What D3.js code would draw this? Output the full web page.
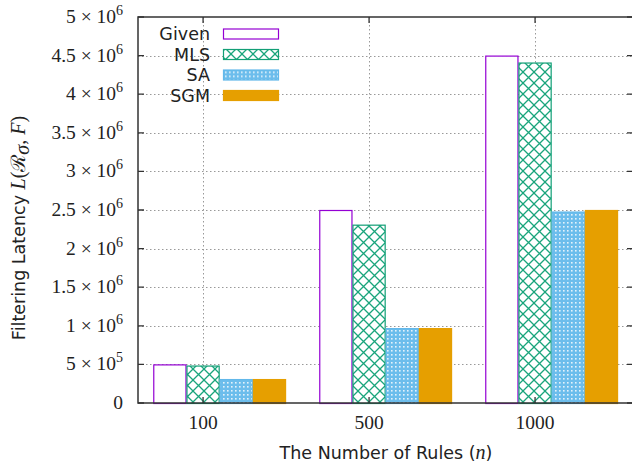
<!DOCTYPE html>
<html>
<head>
<meta charset="utf-8">
<script src="https://cdn.jsdelivr.net/npm/d3@7"></script>
<style>
  body { margin: 0; background: #fff; }
  svg { display: block; }
  .tick-label { font-family: "Liberation Serif", serif; font-size: 19.5px; fill: #222; }
  .sans { font-family: "DejaVu Sans", sans-serif; font-size: 17.5px; fill: #222; }
  .math { font-family: "Liberation Serif", serif; font-size: 20px; }
</style>
</head>
<body>
<div id="wrapper"></div>
<script>
const categories = ["100", "500", "1000"];
const seriesNames = ["Given", "MLS", "SA", "SGM"];
const givenValues = [5.0e5, 2.5e6, 4.5e6];
const mlsValues = [4.85e5, 2.31e6, 4.41e6];
const saValues = [3.1e5, 0.97e6, 2.48e6];
const sgmValues = [3.1e5, 0.97e6, 2.5e6];
const yTicks = [0, 5e5, 1e6, 1.5e6, 2e6, 2.5e6, 3e6, 3.5e6, 4e6, 4.5e6, 5e6];
const yTickText = [["0", ""], ["5 × 10", "5"], ["1 × 10", "6"], ["1.5 × 10", "6"], ["2 × 10", "6"],
  ["2.5 × 10", "6"], ["3 × 10", "6"], ["3.5 × 10", "6"], ["4 × 10", "6"], ["4.5 × 10", "6"], ["5 × 10", "6"]];

function build() {
  const dimension = {
    width: 632,
    height: 465,
    margin: { top: 17, right: -1, bottom: 62, left: 138 },
  };
  dimension.boundedWidth = dimension.width - dimension.margin.left - dimension.margin.right;
  dimension.boundedHeight = dimension.height - dimension.margin.top - dimension.margin.bottom;

  const allSeries = [givenValues, mlsValues, saValues, sgmValues];
  const data = categories.flatMap((c, i) =>
    seriesNames.map((s, k) => ({ cat: i, k, name: s, value: allSeries[k][i] })));

  const x = d3.scaleLinear().domain([-0.392, 2.59]).range([0, dimension.boundedWidth]);
  const y = d3.scaleLinear().domain([0, 5e6]).range([dimension.boundedHeight, 0]);

  const wrapper = d3.select("#wrapper").append("svg")
    .attr("width", dimension.width)
    .attr("height", dimension.height);

  const defs = wrapper.append("defs");
  const hatch = defs.append("pattern")
    .attr("id", "hatch-mls").attr("patternUnits", "userSpaceOnUse")
    .attr("width", 11).attr("height", 11);
  hatch.append("rect").attr("width", 11).attr("height", 11).attr("fill", "#fff");
  hatch.append("path").attr("d", "M0,0L11,11M11,0L0,11M-1,10L1,12M10,-1L12,1")
    .attr("stroke", "#1aa57c").attr("stroke-width", 1.3).attr("fill", "none");

  const dots = defs.append("pattern")
    .attr("id", "hatch-sa").attr("patternUnits", "userSpaceOnUse")
    .attr("width", 4).attr("height", 4);
  dots.append("rect").attr("width", 4).attr("height", 4).attr("fill", "#6cbdec");
  dots.append("rect").attr("x", 1).attr("y", 1).attr("width", 1.6).attr("height", 1.6).attr("fill", "#e4f2fb");

  const colors = {
    Given: { fill: "#fff", stroke: "#9400d3" },
    MLS: { fill: "url(#hatch-mls)", stroke: "#129f76" },
    SA: { fill: "url(#hatch-sa)", stroke: "#62b8ea" },
    SGM: { fill: "#e69f00", stroke: "#e69f00" },
  };

  const bounds = wrapper.append("g")
    .attr("transform", `translate(${dimension.margin.left},${dimension.margin.top})`);

  // grid
  bounds.append("g").selectAll("line.gy")
    .data(yTicks.slice(1, -1)).enter().append("line")
    .attr("x1", 0).attr("x2", dimension.boundedWidth)
    .attr("y1", (d) => Math.round(y(d)) + 0.5).attr("y2", (d) => Math.round(y(d)) + 0.5)
    .attr("stroke", "#999").attr("stroke-width", 1).attr("stroke-dasharray", "1.5,2.5");
  bounds.append("g").selectAll("line.gx")
    .data(categories).enter().append("line")
    .attr("x1", (d, i) => Math.round(x(i)) + 0.5).attr("x2", (d, i) => Math.round(x(i)) + 0.5)
    .attr("y1", 0).attr("y2", dimension.boundedHeight)
    .attr("stroke", "#999").attr("stroke-width", 1).attr("stroke-dasharray", "1.5,2.5");

  // bars
  bounds.append("g").selectAll("rect")
    .data(data).enter().append("rect")
    .attr("x", (d) => x(d.cat - 0.3 + d.k * 0.2) + 0.5)
    .attr("width", (d) => x(0.2) - x(0) - 1)
    .attr("y", (d) => y(d.value) + 0.5)
    .attr("height", (d) => y(0) - y(d.value))
    .attr("fill", (d) => colors[d.name].fill)
    .attr("stroke", (d) => colors[d.name].stroke)
    .attr("stroke-width", 1.2);

  // frame
  bounds.append("rect")
    .attr("x", 0).attr("y", 0)
    .attr("width", dimension.boundedWidth).attr("height", dimension.boundedHeight)
    .attr("fill", "none").attr("stroke", "#333").attr("stroke-width", 1.5);

  // tick marks
  bounds.append("g").selectAll("path")
    .data(yTicks).enter().append("path")
    .attr("d", (d) => `M0,${y(d)}h6M${dimension.boundedWidth},${y(d)}h-6`)
    .attr("stroke", "#333").attr("stroke-width", 1.3);
  bounds.append("g").selectAll("path")
    .data(categories).enter().append("path")
    .attr("d", (d, i) => `M${x(i)},0v6M${x(i)},${dimension.boundedHeight}v-6`)
    .attr("stroke", "#333").attr("stroke-width", 1.3);

  // y tick labels
  const yl = bounds.append("g").selectAll("text")
    .data(yTicks).enter().append("text")
    .attr("class", "tick-label")
    .attr("x", -15)
    .attr("y", (d) => y(d) + 6)
    .attr("text-anchor", "end");
  yl.each(function (d, i) {
    const t = d3.select(this);
    t.append("tspan").text(yTickText[i][0]);
    if (yTickText[i][1]) {
      t.append("tspan").attr("dy", -8).attr("font-size", 14).text(yTickText[i][1]);
    }
  });

  // x tick labels
  bounds.append("g").selectAll("text")
    .data(categories).enter().append("text")
    .attr("class", "tick-label")
    .attr("x", (d, i) => x(i))
    .attr("y", dimension.boundedHeight + 26)
    .attr("text-anchor", "middle")
    .text((d) => d);

  // axis titles
  const xt = wrapper.append("text")
    .attr("class", "sans")
    .attr("x", 386).attr("y", 459)
    .attr("text-anchor", "middle");
  xt.append("tspan").text("The Number of Rules (");
  xt.append("tspan").attr("class", "math").attr("font-style", "italic").text("n");
  xt.append("tspan").text(")");

  const ytl = wrapper.append("text")
    .attr("class", "sans")
    .attr("transform", "translate(25,228) rotate(-90)")
    .attr("text-anchor", "middle");
  ytl.append("tspan").text("Filtering Latency ");
  ytl.append("tspan").attr("class", "math").attr("font-style", "italic").text("L");
  ytl.append("tspan").attr("class", "math").text("(");
  ytl.append("tspan").attr("class", "math").attr("font-family", "DejaVu Serif, serif").attr("font-size", 18).text("ℛ");
  ytl.append("tspan").attr("class", "math").attr("font-style", "italic").attr("font-size", 14).attr("dy", 4).text("σ");
  ytl.append("tspan").attr("class", "math").attr("dy", -4).text(", ");
  ytl.append("tspan").attr("class", "math").attr("font-style", "italic").text("F");
  ytl.append("tspan").attr("class", "math").text(")");

  // legend
  const legend = wrapper.append("g").selectAll("g")
    .data(seriesNames).enter().append("g")
    .attr("transform", (d, i) => `translate(0,${33.5 + i * 20.5})`);
  legend.append("text")
    .attr("class", "sans")
    .attr("x", 210).attr("y", 6.5)
    .attr("text-anchor", "end")
    .text((d) => d);
  legend.append("rect")
    .attr("x", 223.5).attr("y", -4.5)
    .attr("width", 55).attr("height", 10)
    .attr("fill", (d) => colors[d].fill)
    .attr("stroke", (d) => colors[d].stroke)
    .attr("stroke-width", 1.2);
}

build();
</script>
</body>
</html>
